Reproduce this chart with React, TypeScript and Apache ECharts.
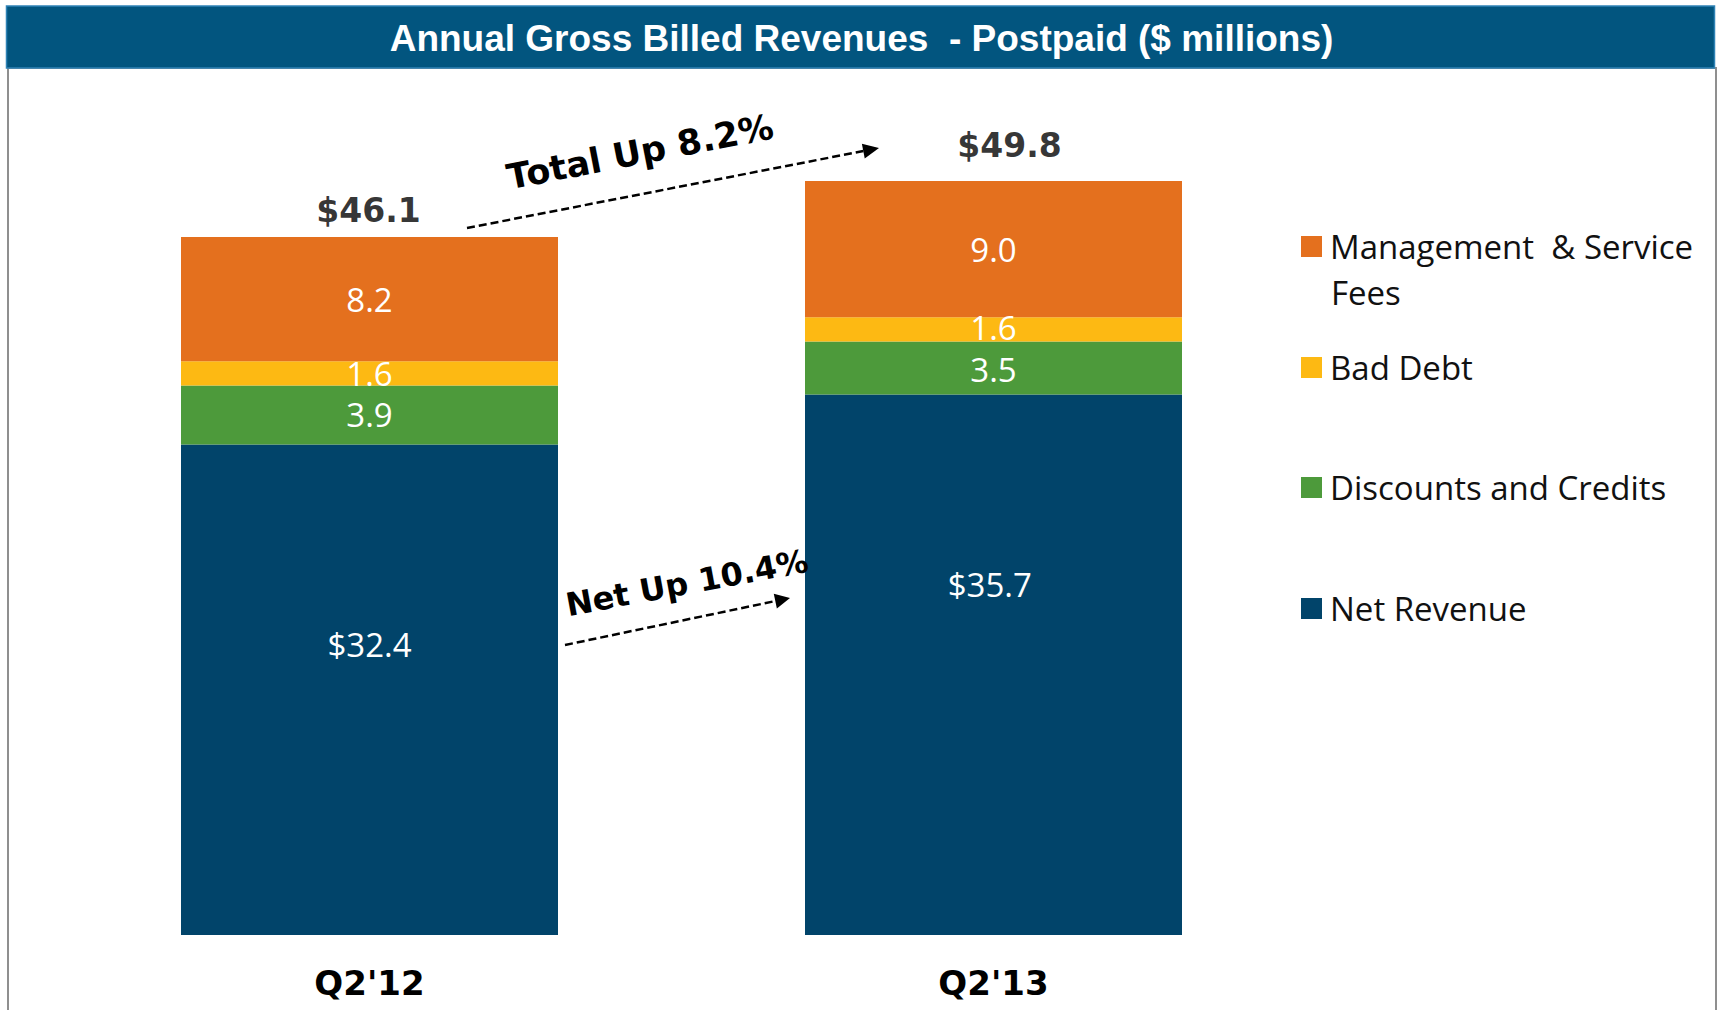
import React, { useEffect, useRef } from 'react';
import * as echarts from 'echarts';

// ---- data ----
const categories = ["Q2'12", "Q2'13"];
const netRevenue = [32.4, 35.7];
const discountsCredits = [3.9, 3.5];
const badDebt = [1.6, 1.6];
const mgmtServiceFees = [8.2, 9.0];
const totals = [46.1, 49.8];
const seriesNames = ['Net Revenue', 'Discounts and Credits', 'Bad Debt', 'Management  & Service Fees'];
const legendOrder = ['Management  & Service Fees', 'Bad Debt', 'Discounts and Credits', 'Net Revenue'];
const annotationTexts = ['Total Up 8.2%', 'Net Up 10.4%'];
const titleText = 'Annual Gross Billed Revenues  - Postpaid ($ millions)';

// ---- styles ----
const COLORS: Record<string, string> = {
  'Net Revenue': '#01446A',
  'Discounts and Credits': '#4D9A3B',
  'Bad Debt': '#FDB913',
  'Management  & Service Fees': '#E4701E',
};
const LABEL_FONT = '"Open Sans", "Noto Sans", sans-serif';
const BOLD_FONT = '"DejaVu Sans", Verdana, sans-serif';
const netLabelPos: [string, string][] = [['50%', '40.8%'], ['49%', '35.2%']];
const labelOffsets: Record<string, [number, number][]> = {
  'Bad Debt': [[0, 0], [0, -2]],
  'Discounts and Credits': [[0, 0], [0, 1]],
};
const totalLabelOffsets: [number, number][] = [[-1, -27], [16, -36]];
const legendTops = [230, 351, 471, 592];

function arrowHead(tip: [number, number], from: [number, number], len: number, half: number) {
  const dx = tip[0] - from[0];
  const dy = tip[1] - from[1];
  const L = Math.sqrt(dx * dx + dy * dy);
  const ux = dx / L, uy = dy / L;
  const bx = tip[0] - len * ux, by = tip[1] - len * uy;
  const nx = -uy, ny = ux;
  return {
    base: [bx, by] as [number, number],
    points: [tip, [bx + half * nx, by + half * ny], [bx - half * nx, by - half * ny]],
  };
}

export default function App() {
  const ref = useRef<HTMLDivElement>(null);
  useEffect(() => {
    if (!ref.current) return;
    const chart = echarts.init(ref.current, undefined, { renderer: 'svg' });

    const a1Start: [number, number] = [467, 228];
    const a1Tip: [number, number] = [879, 148];
    const a2Start: [number, number] = [565, 645];
    const a2Tip: [number, number] = [790, 598];
    const h1 = arrowHead(a1Tip, a1Start, 16, 7.5);
    const h2 = arrowHead(a2Tip, a2Start, 15, 7.5);

    const valueSeries: Record<string, number[]> = {
      'Net Revenue': netRevenue,
      'Discounts and Credits': discountsCredits,
      'Bad Debt': badDebt,
      'Management  & Service Fees': mgmtServiceFees,
    };

    const barSeries = seriesNames.map((name) => {
      const vals = valueSeries[name];
      const isNet = name === 'Net Revenue';
      const offs = labelOffsets[name];
      return {
        name,
        type: 'bar',
        stack: 'rev',
        barWidth: 377,
        itemStyle: { color: COLORS[name] },
        label: {
          show: true,
          position: 'inside',
          color: '#ffffff',
          fontFamily: LABEL_FONT,
          fontSize: 33,
          lineHeight: 22,
          align: 'center',
          verticalAlign: 'middle',
          formatter: (p: any) => (isNet ? '$' : '') + Number(p.value).toFixed(1),
        },
        data: vals.map((v, i) => {
          if (isNet) return { value: v, label: { position: netLabelPos[i] } };
          if (offs) return { value: v, label: { offset: offs[i] } };
          return { value: v };
        }),
      };
    });

    const legends = legendOrder.map((name, i) => ({
      data: [name],
      orient: 'vertical',
      left: 1301,
      top: legendTops[i],
      padding: 0,
      icon: 'rect',
      itemWidth: 21,
      itemHeight: 21,
      selectedMode: false,
      textStyle: {
        color: '#111111',
        fontFamily: LABEL_FONT,
        fontSize: 33,
        lineHeight: 21,
        padding: [0, 0, 0, 3],
      },
      formatter: (n: string) => (n === 'Management  & Service Fees' ? 'Management  & Service' : n),
    }));

    chart.setOption({
      animation: false,
      backgroundColor: '#ffffff',
      title: {
        text: titleText,
        left: 'center',
        top: 19,
        padding: 0,
        z: 10,
        textStyle: {
          color: '#ffffff',
          fontFamily: '"Liberation Sans", Arial, sans-serif',
          fontWeight: 'bold',
          fontSize: 37,
          lineHeight: 38,
        },
      },
      legend: legends,
      grid: { left: 57.5, right: 417.5, top: 178, bottom: 75 },
      xAxis: {
        type: 'category',
        data: categories,
        axisLine: { show: false },
        axisTick: { show: false },
        axisLabel: {
          color: '#000000',
          fontFamily: BOLD_FONT,
          fontWeight: 'bold',
          fontSize: 34,
          lineHeight: 34,
          margin: 31,
        },
      },
      yAxis: {
        type: 'value',
        min: 0,
        max: 50,
        show: false,
        splitLine: { show: false },
      },
      series: [
        ...barSeries,
        {
          name: 'Total',
          type: 'scatter',
          symbolSize: 1,
          itemStyle: { color: 'transparent' },
          z: 5,
          label: {
            show: true,
            position: 'inside',
            color: '#000000',
            fontFamily: BOLD_FONT,
            fontWeight: 'bold',
            fontSize: 33,
            formatter: (p: any) => '$' + Number(p.value).toFixed(1),
          },
          data: totals.map((v, i) => ({ value: v, label: { offset: totalLabelOffsets[i] } })),
        },
      ],
      graphic: [
        {
          type: 'rect',
          z: -1,
          shape: { x: 8, y: 68, width: 1708, height: 1000 },
          style: { fill: 'none', stroke: '#8f8f8f', lineWidth: 2 },
        },
        {
          type: 'rect',
          z: 0,
          shape: { x: 6.5, y: 6, width: 1708, height: 62 },
          style: { fill: '#02557F', stroke: '#2f83b6', lineWidth: 1.5 },
        },
        {
          type: 'line',
          z: 20,
          shape: { x1: a1Start[0], y1: a1Start[1], x2: h1.base[0], y2: h1.base[1] },
          style: { stroke: '#000000', lineWidth: 2.5, lineDash: [8, 4] },
        },
        {
          type: 'polygon',
          z: 20,
          shape: { points: h1.points },
          style: { fill: '#000000' },
        },
        {
          type: 'line',
          z: 20,
          shape: { x1: a2Start[0], y1: a2Start[1], x2: h2.base[0], y2: h2.base[1] },
          style: { stroke: '#000000', lineWidth: 2.5, lineDash: [8, 4] },
        },
        {
          type: 'polygon',
          z: 20,
          shape: { points: h2.points },
          style: { fill: '#000000' },
        },
        {
          type: 'text',
          z: 20,
          x: 640,
          y: 152,
          rotation: (11 * Math.PI) / 180,
          style: {
            text: annotationTexts[0],
            fill: '#000000',
            font: 'bold 35px "DejaVu Sans", Verdana, sans-serif',
            align: 'center',
            verticalAlign: 'middle',
          },
        },
        {
          type: 'text',
          z: 20,
          x: 687,
          y: 583,
          rotation: (10.5 * Math.PI) / 180,
          style: {
            text: annotationTexts[1],
            fill: '#000000',
            font: 'bold 32px "DejaVu Sans", Verdana, sans-serif',
            align: 'center',
            verticalAlign: 'middle',
          },
        },
        {
          type: 'text',
          z: 20,
          x: 1331,
          y: 292.5,
          style: {
            text: 'Fees',
            fill: '#111111',
            font: '33px "Open Sans", "Noto Sans", sans-serif',
            align: 'left',
            verticalAlign: 'middle',
          },
        },
      ],
    });
    return () => chart.dispose();
  }, []);
  return (
    <div
      ref={ref}
      style={{ position: 'absolute', left: 0, top: 0, width: 1723, height: 1010 }}
    />
  );
}
